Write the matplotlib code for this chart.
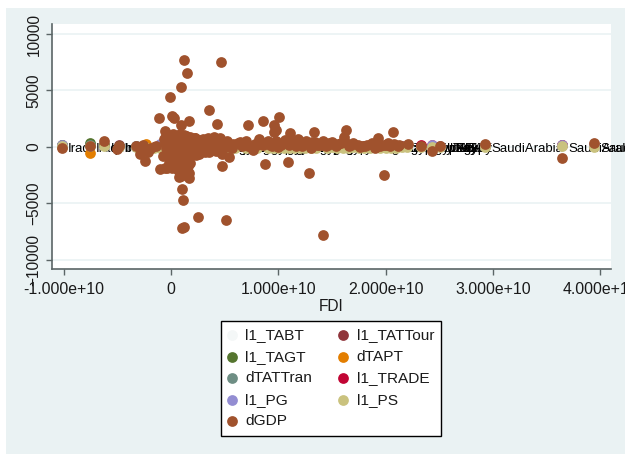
import matplotlib
matplotlib.use('Agg')
import matplotlib.pyplot as plt
from matplotlib.patches import Rectangle

plt.rcParams['font.family'] = ['Liberation Sans', 'DejaVu Sans']

x_ticks = [-1e10, 0, 1e10, 2e10, 3e10, 4e10]
x_tick_labels = ['-1.000e+10', '0', '1.000e+10', '2.000e+10', '3.000e+10', '4.000e+10']
y_ticks = [-10000, -5000, 0, 5000, 10000]

# FDI in units of 1e10
gdp_fdi = [
    0.12, 0.466, 0.146, 0.096, -0.006, 0.354, -0.109, 0.006, 0.028, 0.17, 0.096, 0.426,
    0.715, 0.857, 1.004, 0.963, 0.976, 0.957, 1.106, 1.333, -0.056, -0.242, -0.056, 0.009,
    -0.08, -0.289, -0.217, 0.472, 0.54, 0.879, 1.093, 1.283, 0.075, 0.17, 0.1, 0.112,
    0.249, 0.51, 0.12, 0.1, 1.417, 1.631, 1.615, 2.069, 1.929, 1.988, 3.647, 3.945,
    2.926, 2.432, 2.507, 2.33, 2.206, 2.119, 2.02, -1.019, -0.758, -0.624, -0.506, -0.487,
    -0.33, -0.26, -0.19, -0.14, -0.04, -0.02, 0.0, 0.02, 0.04, 0.06, 0.08, 0.1,
    0.12, 0.14, 0.16, 0.18, 0.2, 0.03, 0.05, 0.07, 0.09, 0.11, 0.13, 0.15,
    0.01, 0.04, 0.07, 0.1, 0.13, 0.16, 0.19, 0.05, 0.08, 0.12, 0.15, 0.18,
    0.06, 0.09, 0.13, 0.11, 0.14, 0.08, 0.02, -0.03, 0.22, 0.25, 0.28, 0.31,
    0.34, 0.37, 0.4, 0.43, 0.46, 0.49, 0.52, 0.55, 0.24, 0.3, 0.35, 0.41,
    0.47, 0.21, 0.27, 0.33, 0.39, 0.45, 0.58, 0.62, 0.66, 0.7, 0.74, 0.78,
    0.82, 0.86, 0.9, 0.94, 0.98, 1.02, 1.06, 1.1, 1.14, 1.18, 1.22, 1.26,
    1.3, 1.34, 1.38, 1.42, 1.46, 1.5, 1.54, 1.58, 1.62, 0.76, 0.8, 0.88,
    1.0, 1.12, 1.16, 1.24, 1.36, 1.44, 1.52, 1.66, 1.7, 1.74, 1.78, 1.83,
    1.87, 1.9, 1.95, 1.98, 2.04, 2.08, 2.12, 0.1, 0.13, 0.16, 0.09, 0.14,
    -0.07, -0.06, -0.05, -0.04, -0.03, -0.01, 0.01, 0.03, 0.05, 0.07, 0.09, 0.11,
    -0.05, -0.02, 0.02, 0.06, 0.1, 0.14, 0.18, 0.22, 0.26, 0.3, 0.34, 0.38,
    0.2, 0.24, 0.28, 0.32, 0.36, 0.42, 0.5, 0.57, 0.64, 0.72, 0.84, 0.92,
    1.03, 1.13, 1.21, 1.31, 1.41, 1.47, 1.56, 1.68, 1.76, 1.81, 1.92, 2.0,
    0.17, 0.19, 0.21, 0.23, 0.15, 0.12, 0.08, 0.04, -0.04, -0.1, 0.26, 0.32,
    0.18, 0.2, 0.16, 0.12, 0.07, 0.03, -0.02, 0.06, 0.1, 0.17, 0.13, 0.09,
]
gdp_values = [
    7660, 7540, 6540, 5260, 4440, 3220, 2540, 2690, 2510, 2330, 1925, 2040,
    1925, 2280, 2660, 1925, 1446, 1300, 1215, 1300, 1420, -1215, -1837, -1837,
    -860, -650, -505, -1712, -914, -1482, -1304, -2334, -2635, -2780, -3700, -4730,
    -6210, -6450, -7100, -7200, -7810, 1480, 860, 1270, 800, -2510, -1000, 380,
    290, -355, 115, 115, 266, 100, 330, -150, 115, 505, -177, 88,
    100, 200, -90, 50, 1000, 700, 900, 1100, 400, -300, 1100, 800,
    1050, 500, 200, 850, 300, -600, -900, -1200, -1500, -1000, -700, -400,
    100, 300, 600, 200, -200, -1000, -300, -1600, -1900, -1300, -1800, -1400,
    -2100, -2400, -2200, 150, 1000, 900, 450, -550, 800, 450, -300, 350,
    650, 200, 850, 150, 750, 250, 550, 100, -250, 600, -500, 300,
    -650, 550, 150, -150, 100, -350, 250, 350, 100, 500, 50, 250,
    700, 200, 550, 100, 500, 150, 600, 200, 350, 650, 100, 500,
    -150, 450, 200, 550, 150, 450, 100, 300, 400, -300, 150, 300,
    -50, 400, 50, 350, 150, 50, 250, 100, 300, 150, 50, 200,
    300, -150, 100, 150, 50, 250, 120, -2350, -1100, -1700, -2500, 600,
    700, 300, -100, -500, -800, -1100, 0, -300, 200, 550, -200, -450,
    950, 1000, 1050, 980, 700, 950, 800, 750, 600, 720, 800, 600,
    -150, -250, 50, -100, 450, -400, 0, -100, 400, 100, 350, 200,
    300, 400, 250, 450, 200, 350, 250, 200, -50, 50, 150, 200,
    -100, -500, 0, -700, -1100, 50, -1450, -1650, -1900, -2000, -650, -500,
    -700, -300, -1300, 600, -1450, -1700, -1400, -1950, -2150, -2300, -1200, -2550,
]

# series that sit in the band around zero
ps_fdi = [
    -1.019, -0.758, -0.624, -0.487, -0.33, -0.24, -0.16, -0.1, 0.0, 0.2, 0.4, 0.6,
    0.8, 0.9, 1.0, 1.1, 1.2, 1.25, 1.35, 1.45, 1.5, 1.55, 1.6, 1.65,
    1.7, 1.75, 1.8, 1.85, 1.9, 1.95, 2.0, 2.05, 2.1, 2.15, 2.2, 2.33,
    2.43, 2.51, 2.926, 3.647, 3.945, 0.3, 0.5, 0.7, 0.95, 1.05, 1.15, 1.3,
]
ps_values = [
    40, 50, 30, 20, -30, -50, -120, -150, -100, -100, -90, -100,
    -100, -110, -100, -100, -100, -120, -70, -110, -60, -110, -80, -100,
    -60, -90, -70, -100, -60, -80, -70, -100, -70, -60, -60, -60,
    -20, -40, -20, 30, -20, -110, -100, -100, -90, -80, -100, -90,
]
tabt_values = [v + 60 for v in ps_values]
tattour_values = [v + 110 for v in ps_values]
tagt_fdi = [-1.019, -0.758, -0.624, -0.487]
tagt_values = [190, 350, 130, 100]
tapt_fdi = [-1.019, -0.758, -0.236, 0.1]
tapt_values = [0, -550, 266, 100]
tran_fdi = [-1.019, -0.758, -0.33]
tran_values = [110, 180, 100]
trade_fdi = [-0.1, 0.0, 0.9, 1.2, 1.6, 1.85, 2.33, 2.43, 3.647]
trade_values = [190, 200, 150, 170, 180, 150, 160, 180, 170]
pg_fdi = [-1.019, -0.1, 1.0, 1.6, 2.43, 3.647, 3.945]
pg_values = [150, 210, 180, 190, 200, 200, 160]

label_fdi = [
    -1.019, -0.758, -0.624, -0.487, -0.42, -0.37, -0.33, 0.2, 0.4, 0.6, 0.8, 0.9,
    1.0, 1.1, 1.2, 1.3, 1.4, 1.5, 1.6, 1.7, 1.8, 1.9, 2.0, 2.1,
    2.2, 2.33, 2.43, 2.51, 2.54, 2.57, 2.6, 2.64, 2.68, 2.926, 3.647, 3.945,
    0.0, 0.1, 0.3, 0.5, 0.7, 0.85, 0.95, 1.05, 1.15, 1.25, 1.35, 1.45,
]
label_names = [
    'Iraq', 'Iraq', 'Lebanon', 'Iraq', 'Iran', 'Qatar', 'Iraq', 'Tunisia', 'Morocco', 'Jordan', 'Egypt', 'Oman',
    'Algeria', 'Kuwait', 'Lebanon', 'Turkey', 'Tunisia', 'Egypt', 'Morocco', 'Jordan', 'Kuwait', 'Algeria', 'Oman', 'Egypt',
    'Turkey', 'Egypt', 'Turkey', 'UAE', 'UAE', 'Turkey', 'Egypt', 'UAE', 'UAE', 'SaudiArabia', 'SaudiArabia', 'SaudiArabia',
    'Egypt', 'Jordan', 'Turkey', 'Egypt', 'Algeria', 'Turkey', 'Egypt', 'Jordan', 'Turkey', 'Egypt', 'Algeria', 'Turkey',
]
label_values = [0] * len(label_fdi)

bg = '#EAF2F3'
ink = '#5b6566'

fig = plt.figure(figsize=(6.25, 4.54), dpi=100, facecolor='white')
fig.patches.append(Rectangle((6 / 625, 0), 619 / 625, 446 / 454, transform=fig.transFigure,
                             facecolor=bg, edgecolor='none', zorder=-1))

ax = fig.add_axes([52 / 625, (454 - 269) / 454, 559 / 625, 245 / 454])
ax.set_facecolor('white')
ax.set_xlim(-1.11e10, 4.1e10)
ax.set_ylim(-10834, 10887)


def e10(vals):
    return [v * 1e10 for v in vals]


s = 60
ax.scatter(e10(ps_fdi), tabt_values, s=s, color='#F4F7F7', zorder=3, label='l1_TABT', linewidths=0)
ax.scatter(e10(ps_fdi), tattour_values, s=s, color='#90353B', zorder=3.1, label='l1_TATTour', linewidths=0)
ax.scatter(e10(tagt_fdi), tagt_values, s=s, color='#55752F', zorder=3.2, label='l1_TAGT', linewidths=0)
ax.scatter(e10(tapt_fdi), tapt_values, s=s, color='#E37E00', zorder=3.3, label='dTAPT', linewidths=0)
ax.scatter(e10(tran_fdi), tran_values, s=s, color='#6E8E84', zorder=3.4, label='dTATTran', linewidths=0)
ax.scatter(e10(trade_fdi), trade_values, s=s, color='#C10534', zorder=3.5, label='l1_TRADE', linewidths=0)
ax.scatter(e10(pg_fdi), pg_values, s=s, color='#938DD2', zorder=3.6, label='l1_PG', linewidths=0)
ax.scatter(e10(ps_fdi), ps_values, s=s, color='#CAC27E', zorder=3.7, label='l1_PS', linewidths=0)
ax.scatter(e10(gdp_fdi), gdp_values, s=s, color='#A0522D', zorder=3.8, label='dGDP', linewidths=0)

for x, y, name in zip(e10(label_fdi), label_values, label_names):
    ax.annotate(name, (x, y), xytext=(4.5, -3.5), textcoords='offset points', fontsize=9.5,
                va='baseline', ha='left', color='black', zorder=2.5, annotation_clip=False)

ax.grid(True, axis='y', color=bg, linewidth=1.2, zorder=0)
ax.set_axisbelow(True)
for side in ['top', 'right']:
    ax.spines[side].set_visible(False)
for side in ['left', 'bottom']:
    ax.spines[side].set_color(ink)
    ax.spines[side].set_linewidth(1.2)

ax.set_xticks(x_ticks)
ax.set_xticklabels(x_tick_labels)
ax.set_yticks(y_ticks)
ax.tick_params(axis='x', length=4.5, width=1, color=ink, labelsize=11.4, pad=4.5, labelcolor='#1a1a1a')
ax.tick_params(axis='y', length=4.5, width=1, color=ink, labelsize=11.2, pad=3, labelcolor='#1a1a1a')
for t in ax.get_yticklabels():
    t.set_rotation(90)
    t.set_va('center')
ax.set_xlabel('FDI', fontsize=11.2, labelpad=1.5, color='#1a1a1a')

handles, labels = ax.get_legend_handles_labels()
by_name = dict(zip(labels, handles))
order = ['l1_TABT', 'l1_TAGT', 'dTATTran', 'l1_PG', 'dGDP', 'l1_TATTour', 'dTAPT', 'l1_TRADE', 'l1_PS']
leg = fig.legend([by_name[n] for n in order], order, ncol=2, loc='center',
                 bbox_to_anchor=(331 / 625, (454 - 378.3) / 454), fontsize=11.1, frameon=True,
                 fancybox=False, edgecolor='black', facecolor='white', framealpha=1,
                 labelspacing=0.48, columnspacing=1.8, handlelength=0.5, handletextpad=0.6,
                 borderpad=0.48, scatterpoints=1, labelcolor='#1a1a1a')
leg.get_frame().set_linewidth(1)

fig.savefig('out.png', dpi=100)
